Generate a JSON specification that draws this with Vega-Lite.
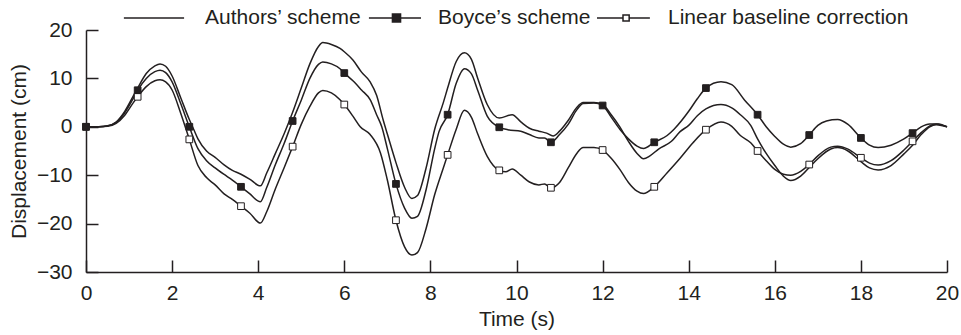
{
  "$schema": "https://vega.github.io/schema/vega-lite/v6.json",
  "autosize": {"type": "none"},
  "padding": {"left": 86, "top": 30, "right": 14, "bottom": 63},
  "width": 861,
  "height": 242,
  "background": "white",
  "datasets": {
    "curves": [
      {"s":"A","t":0,"v":0},{"s":"A","t":0.3,"v":0},{"s":"A","t":0.5,"v":0.2},{"s":"A","t":0.7,"v":1.0},{"s":"A","t":0.9,"v":3.2},{"s":"A","t":1.1,"v":6.4},{"s":"A","t":1.2,"v":8.0},{"s":"A","t":1.4,"v":11.0},{"s":"A","t":1.6,"v":12.6},{"s":"A","t":1.72,"v":13.0},{"s":"A","t":1.85,"v":12.5},{"s":"A","t":2.0,"v":10.5},{"s":"A","t":2.2,"v":6.0},{"s":"A","t":2.4,"v":1.5},{"s":"A","t":2.5,"v":-0.5},{"s":"A","t":2.6,"v":-2.5},{"s":"A","t":2.8,"v":-5.0},{"s":"A","t":3.0,"v":-6.3},{"s":"A","t":3.2,"v":-7.8},{"s":"A","t":3.4,"v":-9.0},{"s":"A","t":3.6,"v":-9.8},{"s":"A","t":3.8,"v":-10.8},{"s":"A","t":4.05,"v":-12.2},{"s":"A","t":4.2,"v":-9.5},{"s":"A","t":4.4,"v":-5.5},{"s":"A","t":4.6,"v":-1.5},{"s":"A","t":4.8,"v":3.0},{"s":"A","t":5.0,"v":8.0},{"s":"A","t":5.2,"v":13.0},{"s":"A","t":5.4,"v":16.6},{"s":"A","t":5.5,"v":17.4},{"s":"A","t":5.7,"v":17.0},{"s":"A","t":5.9,"v":16.2},{"s":"A","t":6.0,"v":15.5},{"s":"A","t":6.2,"v":13.8},{"s":"A","t":6.4,"v":11.3},{"s":"A","t":6.6,"v":9.3},{"s":"A","t":6.75,"v":6.5},{"s":"A","t":6.9,"v":1.5},{"s":"A","t":7.0,"v":-1.5},{"s":"A","t":7.2,"v":-7.4},{"s":"A","t":7.4,"v":-12.5},{"s":"A","t":7.57,"v":-14.8},{"s":"A","t":7.7,"v":-14.2},{"s":"A","t":7.9,"v":-8.5},{"s":"A","t":8.1,"v":-0.5},{"s":"A","t":8.3,"v":5.0},{"s":"A","t":8.4,"v":8.0},{"s":"A","t":8.6,"v":13.5},{"s":"A","t":8.79,"v":15.3},{"s":"A","t":8.95,"v":14.0},{"s":"A","t":9.1,"v":10.0},{"s":"A","t":9.32,"v":4.6},{"s":"A","t":9.6,"v":1.8},{"s":"A","t":9.9,"v":2.5},{"s":"A","t":10.1,"v":1.0},{"s":"A","t":10.3,"v":-0.3},{"s":"A","t":10.52,"v":-0.9},{"s":"A","t":10.7,"v":-1.3},{"s":"A","t":10.85,"v":-1.9},{"s":"A","t":11.0,"v":-0.9},{"s":"A","t":11.2,"v":1.3},{"s":"A","t":11.4,"v":4.0},{"s":"A","t":11.55,"v":5.0},{"s":"A","t":11.8,"v":5.0},{"s":"A","t":12.0,"v":4.6},{"s":"A","t":12.2,"v":2.5},{"s":"A","t":12.4,"v":0},{"s":"A","t":12.6,"v":-3.0},{"s":"A","t":12.8,"v":-5.5},{"s":"A","t":12.95,"v":-6.6},{"s":"A","t":13.1,"v":-6.0},{"s":"A","t":13.3,"v":-4.6},{"s":"A","t":13.6,"v":-3.0},{"s":"A","t":13.8,"v":-1.0},{"s":"A","t":14.0,"v":0.3},{"s":"A","t":14.2,"v":2.3},{"s":"A","t":14.4,"v":3.7},{"s":"A","t":14.75,"v":4.6},{"s":"A","t":15.0,"v":3.9},{"s":"A","t":15.2,"v":2.5},{"s":"A","t":15.44,"v":0.3},{"s":"A","t":15.6,"v":-2.5},{"s":"A","t":15.8,"v":-5.5},{"s":"A","t":16.0,"v":-8.0},{"s":"A","t":16.2,"v":-10.2},{"s":"A","t":16.37,"v":-11.1},{"s":"A","t":16.6,"v":-10.2},{"s":"A","t":16.8,"v":-8.4},{"s":"A","t":17.0,"v":-6.6},{"s":"A","t":17.3,"v":-4.6},{"s":"A","t":17.46,"v":-4.3},{"s":"A","t":17.7,"v":-5.0},{"s":"A","t":18.0,"v":-7.2},{"s":"A","t":18.2,"v":-8.5},{"s":"A","t":18.4,"v":-8.9},{"s":"A","t":18.7,"v":-8.0},{"s":"A","t":19.0,"v":-5.6},{"s":"A","t":19.2,"v":-3.8},{"s":"A","t":19.4,"v":-1.6},{"s":"A","t":19.6,"v":0},{"s":"A","t":19.75,"v":0.4},{"s":"A","t":19.9,"v":0.2},{"s":"A","t":20,"v":0},

      {"s":"B","t":0,"v":0},{"s":"B","t":0.3,"v":0},{"s":"B","t":0.5,"v":0.15},{"s":"B","t":0.7,"v":0.9},{"s":"B","t":0.9,"v":2.9},{"s":"B","t":1.1,"v":5.9},{"s":"B","t":1.2,"v":7.55},{"s":"B","t":1.4,"v":10.0},{"s":"B","t":1.6,"v":11.4},{"s":"B","t":1.72,"v":11.7},{"s":"B","t":1.85,"v":11.2},{"s":"B","t":2.0,"v":9.3},{"s":"B","t":2.2,"v":4.8},{"s":"B","t":2.4,"v":0},{"s":"B","t":2.6,"v":-4.5},{"s":"B","t":2.8,"v":-7.0},{"s":"B","t":3.0,"v":-8.5},{"s":"B","t":3.2,"v":-9.8},{"s":"B","t":3.4,"v":-11.0},{"s":"B","t":3.6,"v":-12.4},{"s":"B","t":3.8,"v":-13.8},{"s":"B","t":4.05,"v":-15.5},{"s":"B","t":4.2,"v":-12.5},{"s":"B","t":4.4,"v":-7.8},{"s":"B","t":4.6,"v":-3.5},{"s":"B","t":4.8,"v":1.2},{"s":"B","t":5.0,"v":5.5},{"s":"B","t":5.2,"v":10.0},{"s":"B","t":5.4,"v":12.9},{"s":"B","t":5.5,"v":13.4},{"s":"B","t":5.7,"v":13.0},{"s":"B","t":5.9,"v":12.0},{"s":"B","t":6.0,"v":11.1},{"s":"B","t":6.2,"v":9.5},{"s":"B","t":6.4,"v":7.6},{"s":"B","t":6.6,"v":5.6},{"s":"B","t":6.75,"v":2.5},{"s":"B","t":6.87,"v":0},{"s":"B","t":7.0,"v":-4.5},{"s":"B","t":7.2,"v":-11.8},{"s":"B","t":7.4,"v":-16.8},{"s":"B","t":7.57,"v":-18.9},{"s":"B","t":7.7,"v":-18.5},{"s":"B","t":7.9,"v":-13.0},{"s":"B","t":8.1,"v":-4.5},{"s":"B","t":8.2,"v":-1.0},{"s":"B","t":8.4,"v":2.5},{"s":"B","t":8.6,"v":9.0},{"s":"B","t":8.79,"v":12.0},{"s":"B","t":8.95,"v":11.0},{"s":"B","t":9.1,"v":7.5},{"s":"B","t":9.32,"v":2.2},{"s":"B","t":9.6,"v":-0.1},{"s":"B","t":9.8,"v":-0.6},{"s":"B","t":10.1,"v":-0.9},{"s":"B","t":10.3,"v":-1.6},{"s":"B","t":10.52,"v":-2.3},{"s":"B","t":10.65,"v":-2.3},{"s":"B","t":10.8,"v":-3.2},{"s":"B","t":11.0,"v":-1.6},{"s":"B","t":11.2,"v":0.5},{"s":"B","t":11.4,"v":3.5},{"s":"B","t":11.55,"v":4.8},{"s":"B","t":11.8,"v":4.9},{"s":"B","t":12.0,"v":4.4},{"s":"B","t":12.2,"v":2.0},{"s":"B","t":12.4,"v":-0.5},{"s":"B","t":12.6,"v":-2.5},{"s":"B","t":12.8,"v":-4.0},{"s":"B","t":12.95,"v":-4.5},{"s":"B","t":13.2,"v":-3.2},{"s":"B","t":13.5,"v":-1.8},{"s":"B","t":13.66,"v":-0.5},{"s":"B","t":14.0,"v":3.2},{"s":"B","t":14.2,"v":5.8},{"s":"B","t":14.4,"v":8.0},{"s":"B","t":14.75,"v":9.3},{"s":"B","t":15.0,"v":8.7},{"s":"B","t":15.3,"v":5.5},{"s":"B","t":15.6,"v":2.5},{"s":"B","t":15.8,"v":0},{"s":"B","t":16.0,"v":-2.0},{"s":"B","t":16.2,"v":-3.6},{"s":"B","t":16.37,"v":-4.2},{"s":"B","t":16.6,"v":-3.5},{"s":"B","t":16.8,"v":-1.7},{"s":"B","t":17.0,"v":0.3},{"s":"B","t":17.2,"v":1.2},{"s":"B","t":17.46,"v":1.5},{"s":"B","t":17.7,"v":0.5},{"s":"B","t":18.0,"v":-2.3},{"s":"B","t":18.2,"v":-3.8},{"s":"B","t":18.4,"v":-4.3},{"s":"B","t":18.7,"v":-3.8},{"s":"B","t":19.0,"v":-2.5},{"s":"B","t":19.2,"v":-1.3},{"s":"B","t":19.4,"v":0},{"s":"B","t":19.6,"v":0.6},{"s":"B","t":19.8,"v":0.6},{"s":"B","t":20,"v":0},

      {"s":"L","t":0,"v":0},{"s":"L","t":0.3,"v":0},{"s":"L","t":0.5,"v":0.1},{"s":"L","t":0.7,"v":0.7},{"s":"L","t":0.9,"v":2.4},{"s":"L","t":1.1,"v":5.0},{"s":"L","t":1.2,"v":6.2},{"s":"L","t":1.4,"v":8.3},{"s":"L","t":1.6,"v":9.5},{"s":"L","t":1.72,"v":9.7},{"s":"L","t":1.85,"v":9.3},{"s":"L","t":2.0,"v":7.6},{"s":"L","t":2.2,"v":2.8},{"s":"L","t":2.4,"v":-2.6},{"s":"L","t":2.6,"v":-8.0},{"s":"L","t":2.8,"v":-10.5},{"s":"L","t":3.0,"v":-12.0},{"s":"L","t":3.2,"v":-13.8},{"s":"L","t":3.4,"v":-15.0},{"s":"L","t":3.6,"v":-16.4},{"s":"L","t":3.8,"v":-17.8},{"s":"L","t":4.05,"v":-19.9},{"s":"L","t":4.2,"v":-17.5},{"s":"L","t":4.4,"v":-12.8},{"s":"L","t":4.6,"v":-8.5},{"s":"L","t":4.8,"v":-4.1},{"s":"L","t":5.0,"v":0.5},{"s":"L","t":5.2,"v":4.2},{"s":"L","t":5.4,"v":7.0},{"s":"L","t":5.5,"v":7.5},{"s":"L","t":5.7,"v":7.0},{"s":"L","t":5.9,"v":5.6},{"s":"L","t":6.0,"v":4.6},{"s":"L","t":6.2,"v":2.2},{"s":"L","t":6.37,"v":0},{"s":"L","t":6.6,"v":-1.6},{"s":"L","t":6.84,"v":-5.4},{"s":"L","t":7.0,"v":-11.0},{"s":"L","t":7.2,"v":-19.3},{"s":"L","t":7.4,"v":-24.8},{"s":"L","t":7.57,"v":-26.5},{"s":"L","t":7.7,"v":-26.0},{"s":"L","t":7.9,"v":-21.0},{"s":"L","t":8.1,"v":-14.0},{"s":"L","t":8.3,"v":-8.5},{"s":"L","t":8.4,"v":-5.8},{"s":"L","t":8.6,"v":-0.5},{"s":"L","t":8.79,"v":3.4},{"s":"L","t":8.95,"v":2.0},{"s":"L","t":9.1,"v":-1.5},{"s":"L","t":9.32,"v":-6.1},{"s":"L","t":9.6,"v":-9.0},{"s":"L","t":9.75,"v":-9.3},{"s":"L","t":9.9,"v":-8.7},{"s":"L","t":10.1,"v":-10.0},{"s":"L","t":10.3,"v":-11.4},{"s":"L","t":10.52,"v":-12.0},{"s":"L","t":10.65,"v":-11.8},{"s":"L","t":10.8,"v":-12.6},{"s":"L","t":11.0,"v":-11.5},{"s":"L","t":11.2,"v":-8.5},{"s":"L","t":11.4,"v":-5.5},{"s":"L","t":11.55,"v":-4.3},{"s":"L","t":11.8,"v":-4.3},{"s":"L","t":12.0,"v":-4.8},{"s":"L","t":12.2,"v":-6.5},{"s":"L","t":12.4,"v":-8.8},{"s":"L","t":12.6,"v":-11.5},{"s":"L","t":12.8,"v":-13.3},{"s":"L","t":12.95,"v":-13.8},{"s":"L","t":13.2,"v":-12.4},{"s":"L","t":13.5,"v":-9.5},{"s":"L","t":13.8,"v":-6.5},{"s":"L","t":14.1,"v":-3.3},{"s":"L","t":14.4,"v":-0.6},{"s":"L","t":14.75,"v":1.0},{"s":"L","t":15.0,"v":0.1},{"s":"L","t":15.2,"v":-1.8},{"s":"L","t":15.44,"v":-3.3},{"s":"L","t":15.6,"v":-5.0},{"s":"L","t":15.8,"v":-7.0},{"s":"L","t":16.0,"v":-8.8},{"s":"L","t":16.2,"v":-9.8},{"s":"L","t":16.37,"v":-10.0},{"s":"L","t":16.6,"v":-9.2},{"s":"L","t":16.8,"v":-7.8},{"s":"L","t":17.0,"v":-6.0},{"s":"L","t":17.3,"v":-4.2},{"s":"L","t":17.46,"v":-4.0},{"s":"L","t":17.7,"v":-4.6},{"s":"L","t":18.0,"v":-6.4},{"s":"L","t":18.2,"v":-7.5},{"s":"L","t":18.4,"v":-7.9},{"s":"L","t":18.7,"v":-7.0},{"s":"L","t":19.0,"v":-4.8},{"s":"L","t":19.2,"v":-3.0},{"s":"L","t":19.4,"v":-1.2},{"s":"L","t":19.6,"v":0.2},{"s":"L","t":19.75,"v":0.6},{"s":"L","t":19.9,"v":0.3},{"s":"L","t":20,"v":0}
    ],
    "markers": [
      {"s":"L","t":0,"v":0},{"s":"L","t":1.2,"v":6.2},{"s":"L","t":2.4,"v":-2.6},{"s":"L","t":3.6,"v":-16.4},{"s":"L","t":4.8,"v":-4.1},{"s":"L","t":6.0,"v":4.6},{"s":"L","t":7.2,"v":-19.3},{"s":"L","t":8.4,"v":-5.8},{"s":"L","t":9.6,"v":-9.0},{"s":"L","t":10.8,"v":-12.6},{"s":"L","t":12.0,"v":-4.8},{"s":"L","t":13.2,"v":-12.4},{"s":"L","t":14.4,"v":-0.6},{"s":"L","t":15.6,"v":-5.0},{"s":"L","t":16.8,"v":-7.8},{"s":"L","t":18.0,"v":-6.4},{"s":"L","t":19.2,"v":-3.0},
      {"s":"B","t":0,"v":0},{"s":"B","t":1.2,"v":7.55},{"s":"B","t":2.4,"v":0},{"s":"B","t":3.6,"v":-12.4},{"s":"B","t":4.8,"v":1.2},{"s":"B","t":6.0,"v":11.1},{"s":"B","t":7.2,"v":-11.8},{"s":"B","t":8.4,"v":2.5},{"s":"B","t":9.6,"v":-0.1},{"s":"B","t":10.8,"v":-3.2},{"s":"B","t":12.0,"v":4.4},{"s":"B","t":13.2,"v":-3.2},{"s":"B","t":14.4,"v":8.0},{"s":"B","t":15.6,"v":2.5},{"s":"B","t":16.8,"v":-1.7},{"s":"B","t":18.0,"v":-2.3},{"s":"B","t":19.2,"v":-1.3}
    ]
  },
  "encoding": {
    "x": {"field": "t", "type": "quantitative", "scale": {"domain": [0, 20], "nice": false},
      "axis": {"values": [0,2,4,6,8,10,12,14,16,18,20], "title": "Time (s)", "labelPadding": 22, "titlePadding": 5, "labelFlush": false}},
    "y": {"field": "v", "type": "quantitative", "scale": {"domain": [-30, 20], "nice": false},
      "axis": {"values": [-30,-20,-10,0,10,20], "title": "Displacement (cm)", "labelPadding": 26, "titlePadding": 7}}
  },
  "layer": [
    {
      "mark": {"type": "rule", "strokeDash": [3, 2], "strokeWidth": 2.2, "color": "#231f20"},
      "encoding": {"y": {"datum": 0}, "x": {"datum": 0}, "x2": {"datum": 20}}
    },
    {
      "data": {"name": "curves"},
      "mark": {"type": "line", "interpolate": "monotone", "strokeWidth": 1.5},
      "encoding": {
        "color": {"field": "s", "type": "nominal",
          "scale": {"domain": ["A", "B", "L"], "range": ["#231f20", "#231f20", "#231f20"]},
          "legend": {
            "orient": "none", "legendX": 45, "legendY": -41, "direction": "horizontal", "title": null,
            "symbolSize": 3136, "symbolStrokeWidth": 1.5, "symbolStrokeColor": "#231f20",
            "labelFont": "Liberation Sans", "labelFontSize": 21, "labelColor": "#231f20",
            "labelOffset": 16, "columnPadding": 2, "labelLimit": 0, "padding": 0,
            "labelExpr": "datum.label == 'A' ? 'Authors’ scheme' : datum.label == 'B' ? 'Boyce’s scheme' : 'Linear baseline correction'",
            "encode": {"symbols": {"update": {
              "shape": {"signal": "datum.value == 'A' ? 'M-1.29,0H0.86' : datum.value == 'B' ? 'M-0.86,0H-0.02M0.27,0H1M-0.02,-0.14H0.27V0.14H-0.02Z' : 'M-0.93,0H0M0.22,0H0.96M0,-0.11H0.22V0.11H0Z'"},
              "fill": {"signal": "datum.value == 'B' ? '#231f20' : 'white'"},
              "stroke": {"value": "#231f20"},
              "strokeWidth": {"value": 1.5}
            }}}
          }}
      }
    },
    {
      "data": {"name": "markers"},
      "mark": {"type": "point", "shape": "square", "filled": true, "size": 45, "stroke": "#231f20", "strokeWidth": 1, "opacity": 1},
      "encoding": {
        "fill": {"field": "s", "type": "nominal", "scale": {"domain": ["B", "L"], "range": ["#231f20", "white"]}, "legend": null}
      }
    }
  ],
  "config": {
    "view": {"stroke": null},
    "font": "Liberation Sans",
    "axis": {"domainColor": "#231f20", "tickColor": "#231f20", "labelColor": "#231f20", "titleColor": "#231f20",
      "grid": false, "labelFontSize": 21, "titleFontSize": 21, "titleFontWeight": "normal",
      "domainWidth": 1.5, "tickWidth": 1.5, "tickSize": -12, "labelFont": "Liberation Sans", "titleFont": "Liberation Sans"}
  }
}
